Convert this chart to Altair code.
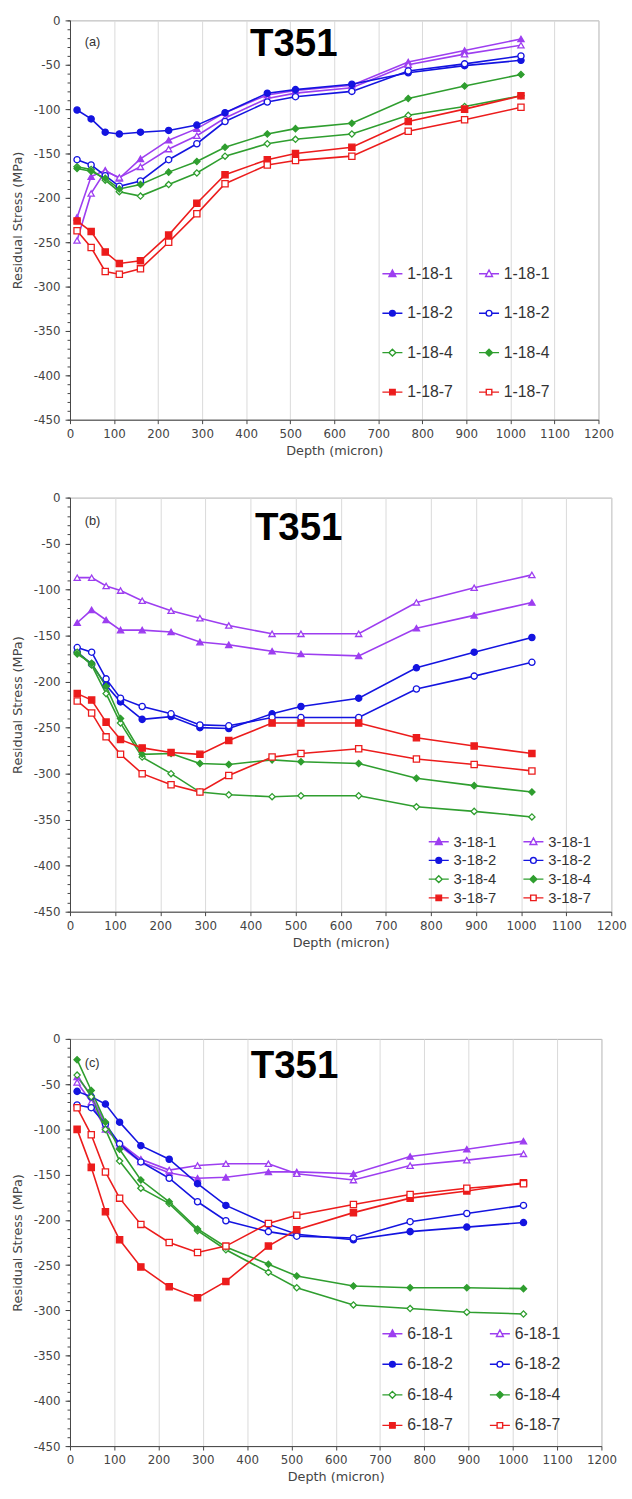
import altair as alt
import pandas as pd

DEPTH = [16, 48, 80, 112, 160, 224, 288, 352, 448, 512, 640, 768, 896, 1024]

# ---- panel (a) ----
A_NAMES = ["1-18-1", "1-18-1", "1-18-2", "1-18-2", "1-18-4", "1-18-4", "1-18-7", "1-18-7"]
A_PURPLE_FILLED = [-222, -176, -169, -178, -156, -135, -122, -104, -84, -79, -73, -47, -34, -21]
A_PURPLE_OPEN = [-248, -195, -170, -177, -165, -145, -130, -110, -88, -82, -76, -50, -38, -28]
A_BLUE_FILLED = [-101, -111, -126, -128, -126, -124, -118, -104, -82, -78, -72, -59, -51, -45]
A_BLUE_OPEN = [-157, -163, -175, -187, -181, -157, -139, -114, -92, -86, -80, -57, -49, -40]
A_GREEN_THIN = [-165, -168, -180, -193, -198, -185, -172, -153, -139, -134, -128, -107, -97, -85]
A_GREEN_FILLED = [-167, -170, -178, -190, -185, -171, -159, -143, -128, -122, -116, -88, -74, -61]
A_RED_FILLED = [-226, -238, -261, -274, -271, -242, -206, -174, -157, -150, -143, -114, -100, -85]
A_RED_OPEN = [-237, -256, -283, -286, -280, -250, -218, -184, -163, -158, -153, -125, -112, -98]

# ---- panel (b) ----
B_NAMES = ["3-18-1", "3-18-1", "3-18-2", "3-18-2", "3-18-4", "3-18-4", "3-18-7", "3-18-7"]
B_PURPLE_FILLED = [-136, -122, -133, -144, -144, -146, -157, -160, -167, -170, -172, -142, -128, -114]
B_PURPLE_OPEN = [-87, -87, -96, -101, -112, -123, -131, -139, -148, -148, -148, -114, -98, -84]
B_BLUE_FILLED = [-168, -181, -204, -222, -241, -238, -250, -251, -235, -227, -218, -185, -168, -152]
B_BLUE_OPEN = [-163, -168, -197, -218, -227, -235, -247, -248, -239, -239, -239, -208, -194, -179]
B_GREEN_THIN = [-168, -182, -213, -245, -282, -300, -320, -323, -325, -324, -324, -336, -341, -347]
B_GREEN_FILLED = [-170, -180, -205, -240, -279, -278, -289, -290, -285, -287, -289, -305, -313, -320]
B_RED_FILLED = [-213, -220, -244, -263, -272, -277, -279, -264, -245, -245, -245, -261, -270, -278]
B_RED_OPEN = [-221, -234, -260, -279, -300, -312, -320, -302, -282, -278, -273, -284, -290, -297]

# ---- panel (c) ----
C_NAMES = ["6-18-1", "6-18-1", "6-18-2", "6-18-2", "6-18-4", "6-18-4", "6-18-7", "6-18-7"]
C_PURPLE_FILLED = [-42, -62, -95, -118, -136, -148, -154, -153, -147, -147, -149, -130, -122, -113]
C_PURPLE_OPEN = [-48, -70, -100, -115, -133, -145, -140, -138, -138, -149, -156, -140, -134, -127]
C_BLUE_FILLED = [-58, -64, -72, -92, -118, -133, -160, -184, -205, -216, -222, -213, -208, -203]
C_BLUE_OPEN = [-73, -76, -94, -116, -136, -154, -180, -201, -213, -218, -220, -202, -193, -184]
C_GREEN_THIN = [-40, -64, -100, -135, -165, -182, -212, -233, -258, -275, -294, -298, -302, -304]
C_GREEN_FILLED = [-23, -57, -92, -122, -156, -180, -210, -230, -249, -262, -273, -275, -275, -276]
C_RED_FILLED = [-100, -142, -191, -222, -252, -274, -286, -268, -229, -211, -192, -176, -168, -159]
C_RED_OPEN = [-76, -106, -147, -176, -205, -225, -236, -229, -204, -195, -183, -172, -165, -160]

PURPLE, BLUE, GREEN, RED = "#9d3ef0", "#1414e0", "#2f9e2f", "#ec1c1c"
COLORS = [PURPLE, PURPLE, BLUE, BLUE, GREEN, GREEN, RED, RED]
FILLS = [PURPLE, "white", BLUE, "white", "white", GREEN, RED, "white"]
SHAPES = ["triangle-up", "triangle-up", "circle", "circle", "diamond", "diamond", "square", "square"]

TRI = "M-1.45,0H-0.3M0.3,0H1.45M0,-0.55L0.5,0.4H-0.5Z"
CIR = "M-1.45,0H-0.42M0.42,0H1.45M0.42,0A0.42,0.42 0 1,1 -0.42,0A0.42,0.42 0 1,1 0.42,0Z"
DIA = "M-1.45,0H-0.5M0.5,0H1.45M0,-0.5L0.5,0L0,0.5L-0.5,0Z"
SQR = "M-1.45,0H-0.4M0.4,0H1.45M-0.4,-0.4H0.4V0.4H-0.4Z"
PATHS = [TRI, TRI, CIR, CIR, DIA, DIA, SQR, SQR]

AXIS_FONT = "DejaVu Sans"


def make_panel(tag, names, series, width, height, leg, title_pos, tag_pos):
    keys = [f"{n}|{i}" for i, n in enumerate(names)]
    rows = []
    for k, vals in zip(keys, series):
        for d, v in zip(DEPTH, vals):
            rows.append({"depth": d, "stress": v, "series": k})
    df = pd.DataFrame(rows)

    xaxis = alt.Axis(
        values=list(range(0, 1201, 50)),
        labelExpr="datum.value % 100 === 0 ? '' + datum.value : ''",
        title="Depth (micron)", labelOverlap=False,
        gridOpacity={"condition": {"test": "datum.value % 100 === 0", "value": 1}, "value": 0},
        grid=True, gridColor="#d9d9d9", gridWidth=1,
        tickSize=4, labelPadding=5, titlePadding=5,
        labelFont=AXIS_FONT, labelFontSize=12, labelColor="#444",
        titleFont=AXIS_FONT, titleFontSize=13, titleFontWeight="normal", titleColor="#444",
        domainColor="#444", tickColor="#444", labelFlush=False,
    )
    yaxis = alt.Axis(
        orient="left",
        values=list(range(-450, 1, 50)),
        labelExpr="'' + datum.value",
        title="Residual Stress (MPa)", grid=False, labelOverlap=False,
        tickSize=5, labelPadding=5, titlePadding=9,
        labelFont=AXIS_FONT, labelFontSize=12, labelColor="#444",
        titleFont=AXIS_FONT, titleFontSize=13, titleFontWeight="normal", titleColor="#444",
        domainColor="#444", tickColor="#444", labelFlush=False,
    )
    yminor = alt.Axis(
        orient="left", values=list(range(-450, 1, 10)), labels=False, domain=False,
        ticks=True, tickSize=3, tickColor="#444", grid=False, title=None,
    )
    xs = alt.Scale(domain=[0, 1200], nice=False)
    ys = alt.Scale(domain=[-450, 0], nice=False)
    x = alt.X("depth:Q", scale=xs, axis=xaxis)
    y = alt.Y("stress:Q", scale=ys, axis=yaxis)
    cscale = alt.Scale(domain=keys, range=COLORS)
    fscale = alt.Scale(domain=keys, range=FILLS)

    legend = alt.Legend(
        title=None, orient="none", legendX=leg["x"], legendY=leg["y"], columns=2,
        direction="horizontal",
        columnPadding=leg["colpad"], rowPadding=leg["rowpad"], padding=0,
        symbolSize=196, symbolStrokeWidth=1.4, labelOffset=7,
        labelFont="Liberation Sans", labelFontSize=leg["font"], labelColor="#333",
        labelExpr="split(datum.label, '|')[0]", symbolOpacity=1,
    )

    base = alt.Chart(df)
    leg_layer = base.transform_filter("false").mark_point(size=196, filled=False).encode(
        x=x, y=y,
        color=alt.Color("series:N", scale=cscale, legend=legend),
        fill=alt.Fill("series:N", scale=fscale, legend=legend),
        shape=alt.Shape("series:N", scale=alt.Scale(domain=keys, range=PATHS), legend=legend),
    )
    lines = base.mark_line(strokeWidth=1.6).encode(
        x=x, y=y, color=alt.Color("series:N", scale=cscale, legend=legend)
    )
    point_layers = []
    for shp in ["triangle-up", "circle", "diamond", "square"]:
        sel = [k for k, s in zip(keys, SHAPES) if s == shp]
        point_layers.append(
            base.transform_filter(alt.FieldOneOfPredicate(field="series", oneOf=sel))
            .mark_point(shape=shp, size=40, strokeWidth=1.3, opacity=1, filled=False)
            .encode(
                x=x, y=y,
                color=alt.Color("series:N", scale=cscale, legend=legend),
                fill=alt.Fill("series:N", scale=fscale, legend=legend),
            )
        )
    minor = base.transform_filter("false").mark_point().encode(
        x=alt.X("depth:Q", scale=xs, axis=xaxis),
        y=alt.Y("stress:Q", scale=ys, axis=yminor),
    )
    title_df = pd.DataFrame({"t": ["T351"]})
    title = alt.Chart(title_df).mark_text(
        font="Liberation Sans", fontSize=39, fontWeight="bold", color="black", align="center", baseline="middle"
    ).encode(x=alt.datum(title_pos[0]), y=alt.datum(title_pos[1]), text="t:N")
    tag_df = pd.DataFrame({"t": [tag]})
    tagtxt = alt.Chart(tag_df).mark_text(
        font="Liberation Sans", fontSize=13, color="#333", align="center", baseline="middle"
    ).encode(x=alt.datum(tag_pos[0]), y=alt.datum(tag_pos[1]), text="t:N")

    main = alt.layer(leg_layer, lines, *point_layers, title, tagtxt)
    return alt.layer(main, minor).resolve_axis(y="independent").properties(
        width=width, height=height
    )


pa = make_panel("(a)", A_NAMES,
                [A_PURPLE_FILLED, A_PURPLE_OPEN, A_BLUE_FILLED, A_BLUE_OPEN,
                 A_GREEN_THIN, A_GREEN_FILLED, A_RED_FILLED, A_RED_OPEN],
                536, 405, {"x": 319, "y": 249, "colpad": 23, "rowpad": 24, "font": 16},
                (508, -27), (51, -24))
pb = make_panel("(b)", B_NAMES,
                [B_PURPLE_FILLED, B_PURPLE_OPEN, B_BLUE_FILLED, B_BLUE_OPEN,
                 B_GREEN_THIN, B_GREEN_FILLED, B_RED_FILLED, B_RED_OPEN],
                549, 420, {"x": 366, "y": 341, "colpad": 24, "rowpad": 3, "font": 15},
                (507, -33), (50, -25))
pc = make_panel("(c)", C_NAMES,
                [C_PURPLE_FILLED, C_PURPLE_OPEN, C_BLUE_FILLED, C_BLUE_OPEN,
                 C_GREEN_THIN, C_GREEN_FILLED, C_RED_FILLED, C_RED_OPEN],
                539, 413, {"x": 319, "y": 291, "colpad": 34, "rowpad": 15, "font": 16},
                (507, -30), (50, -27))

RES = dict(color="independent", fill="independent", shape="independent", x="independent", y="independent")
LRES = dict(color="independent", fill="independent", shape="independent")

top = alt.vconcat(pa, pb, spacing=33).resolve_scale(**RES).resolve_legend(**LRES)

chart = alt.vconcat(top, pc, spacing=83).resolve_scale(**RES).resolve_legend(**LRES).properties(
    padding={"left": 11, "top": 3, "right": 5, "bottom": 5}
).configure_view(stroke="#b0b0b0")

chart.save("out.html", embed_options={"renderer": "svg", "actions": False})
